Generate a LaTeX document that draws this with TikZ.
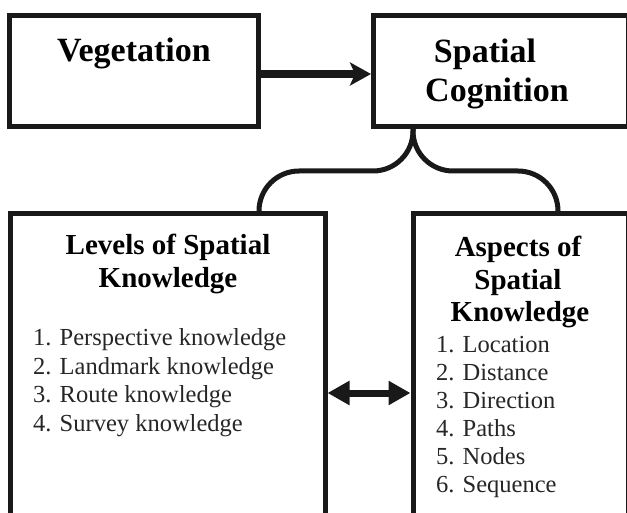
\documentclass[tikz,border=0pt]{standalone}
\usepackage{fontspec}
\setmainfont{Liberation Serif}
\usetikzlibrary{arrows.meta}
\tikzset{
  boxshape/.style={draw=black!90, line width=5pt, inner sep=0pt, rectangle},
  topfont/.style={font=\bfseries\fontsize{34}{38}\selectfont, inner sep=0pt, anchor=base},
  headfont/.style={font=\bfseries\fontsize{29}{33}\selectfont, inner sep=0pt, anchor=base},
  itemfont/.style={font=\fontsize{24.5}{28}\selectfont, inner sep=0pt, anchor=base west, text=black!85},
  thickarrow/.style={draw=black!90, line width=7.5pt, -{Stealth[length=21pt,width=23pt,inset=5pt]}},
  dblarrow/.style={draw=black!90, line width=7pt, {Triangle[length=22pt,width=23pt]}-{Triangle[length=22pt,width=23pt]}},
  bracepath/.style={draw=black!90, line width=5pt, rounded corners=40pt},
}
\begin{document}
\begin{tikzpicture}[x=1pt,y=-1pt]
\useasboundingbox (0,0) rectangle (627,513);
\clip (0,0) rectangle (627,513);
% boxes
\node[boxshape, minimum width=249pt, minimum height=111pt] (veg) at (134,71) {};
\node[boxshape, minimum width=254.5pt, minimum height=111pt] (sc) at (500.75,71) {};
\node[boxshape, minimum width=314.5pt, minimum height=346.5pt] (lev) at (167.75,386.75) {};
\node[boxshape, minimum width=215pt, minimum height=346.5pt] (asp) at (520.5,386.75) {};
% texts
\node[topfont] (tveg) at (134,62) {Vegetation};
\node[topfont] (tsc1) at (485,63) {Spatial};
\node[topfont] (tsc2) at (497,102) {Cognition};
\node[headfont] (tlev1) at (168,255) {Levels of Spatial};
\node[headfont] (tlev2) at (168,288) {Knowledge};
\node[itemfont] (l1) at (33,345.5) {1. Perspective knowledge};
\node[itemfont] (l2) at (33,374) {2. Landmark knowledge};
\node[itemfont] (l3) at (33,402.5) {3. Route knowledge};
\node[itemfont] (l4) at (33,431) {4. Survey knowledge};
\node[headfont] (tasp1) at (518,257) {Aspects of};
\node[headfont] (tasp2) at (518,290) {Spatial};
\node[headfont] (tasp3) at (520,322) {Knowledge};
\node[itemfont] (a1) at (436,352.5) {1. Location};
\node[itemfont] (a2) at (436,380.5) {2. Distance};
\node[itemfont] (a3) at (436,408.5) {3. Direction};
\node[itemfont] (a4) at (436,436.5) {4. Paths};
\node[itemfont] (a5) at (436,464) {5. Nodes};
\node[itemfont] (a6) at (436,492) {6. Sequence};
% connectors
\coordinate (ay) at (0,74);
\draw[thickarrow] (veg.east |- ay) -- (sc.west |- ay);
\coordinate (dy) at (0,393);
\draw[dblarrow] (lev.east |- dy) -- (asp.west |- dy);
\coordinate (bx) at (413,0);
\coordinate (hy) at (0,171);
\coordinate (lx) at (259,0);
\coordinate (rx) at (558,0);
\draw[bracepath] (sc.south -| bx) -- (bx |- hy) -- (lx |- hy) -- (lev.north -| lx);
\draw[bracepath] (sc.south -| bx) -- (bx |- hy) -- (rx |- hy) -- (asp.north -| rx);
\end{tikzpicture}
\end{document}
